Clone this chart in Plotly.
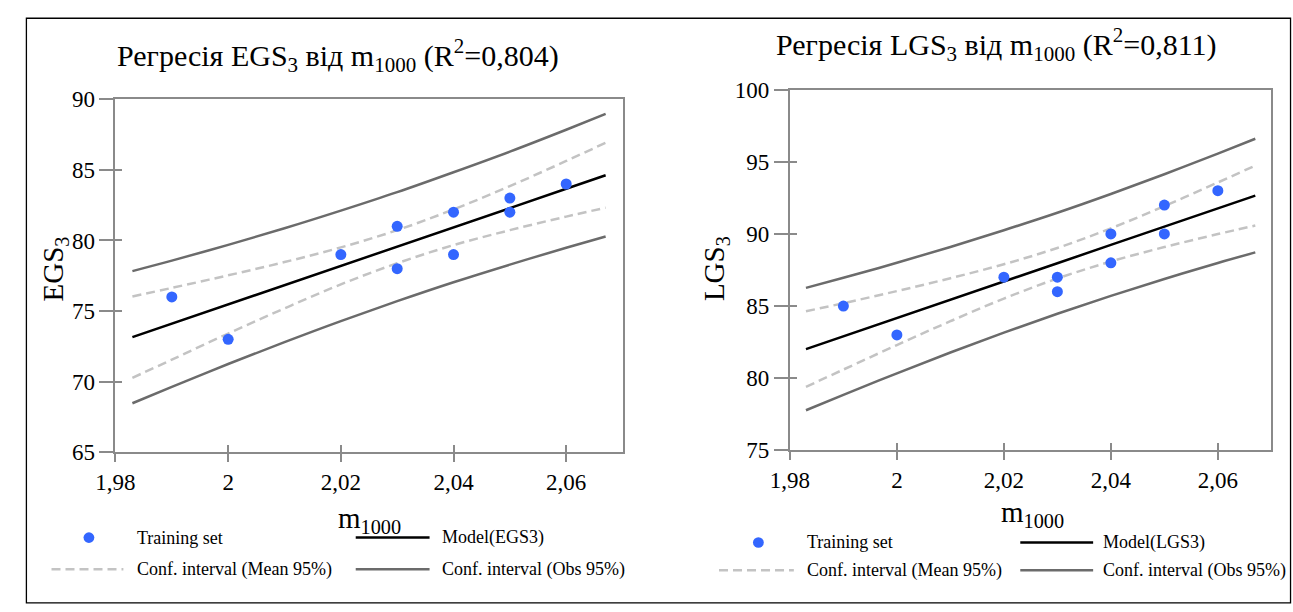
import plotly.graph_objects as go

W, H = 1293, 612

# ---------------- data ----------------
m1000 = [1.99, 2.00, 2.02, 2.03, 2.03, 2.04, 2.04, 2.05, 2.05, 2.06]
egs3 = [76, 73, 79, 81, 78, 82, 79, 83, 82, 84]
lgs3 = [85, 83, 87, 87, 86, 90, 88, 92, 90, 93]

curve_x = [1.983, 1.99, 2.00, 2.01, 2.02, 2.03, 2.04, 2.05, 2.06, 2.067]

egs_model = [73.15, 74.10, 75.47, 76.83, 78.20, 79.56, 80.93, 82.29, 83.66, 84.62]
egs_mean_lo = [70.27, 71.56, 73.41, 75.19, 76.89, 78.39, 79.67, 80.73, 81.69, 82.32]
egs_mean_hi = [76.03, 76.64, 77.53, 78.47, 79.51, 80.73, 82.20, 83.85, 85.63, 86.92]
egs_obs_lo = [68.47, 69.63, 71.25, 72.80, 74.29, 75.70, 77.04, 78.29, 79.48, 80.28]
egs_obs_hi = [77.83, 78.57, 79.69, 80.86, 82.11, 83.42, 84.83, 86.29, 87.84, 88.96]

lgs_model = [82.02, 82.90, 84.17, 85.44, 86.71, 87.97, 89.24, 90.51, 91.78, 92.66]
lgs_mean_lo = [79.40, 80.60, 82.30, 83.95, 85.52, 86.91, 88.09, 89.09, 89.99, 90.58]
lgs_mean_hi = [84.64, 85.20, 86.04, 86.93, 87.90, 89.03, 90.39, 91.93, 93.57, 94.74]
lgs_obs_lo = [77.78, 78.84, 80.34, 81.78, 83.16, 84.47, 85.71, 86.88, 87.99, 88.72]
lgs_obs_hi = [86.26, 86.96, 88.00, 89.10, 90.26, 91.47, 92.77, 94.14, 95.57, 96.60]

x_ticks = [1.98, 2.00, 2.02, 2.04, 2.06]
x_ticktext = ["1,98", "2", "2,02", "2,04", "2,06"]
x_range = [1.98, 2.07]
egs_ticks = [65, 70, 75, 80, 85, 90]
lgs_ticks = [75, 80, 85, 90, 95, 100]

titles = ["Регресія EGS<sub>3</sub> від m<sub>1000</sub> (R<sup>2</sup>=0,804)",
          "Регресія LGS<sub>3</sub> від m<sub>1000</sub> (R<sup>2</sup>=0,811)"]
y_titles = ["EGS<sub>3</sub>", "LGS<sub>3</sub>"]
x_title = "m<sub>1000</sub>"
legend_labels = [["Training set", "Model(EGS3)", "Conf. interval (Mean 95%)", "Conf. interval (Obs 95%)"],
                 ["Training set", "Model(LGS3)", "Conf. interval (Mean 95%)", "Conf. interval (Obs 95%)"]]

# ---------------- styles ----------------
FONT = "Liberation Serif, Times New Roman, serif"
BLUE = "#3366ff"
MEAN_C = "#c3c3c3"
OBS_C = "#6b6b6b"
AXIS_C = "#8a8a8a"
DASH = "9px,5px"


def px(x):
    return x / W


def py(y):
    return 1 - y / H


fig = go.Figure()

panels = [
    dict(y=egs3, model=egs_model, mlo=egs_mean_lo, mhi=egs_mean_hi, olo=egs_obs_lo, ohi=egs_obs_hi,
         xa="x", ya="y"),
    dict(y=lgs3, model=lgs_model, mlo=lgs_mean_lo, mhi=lgs_mean_hi, olo=lgs_obs_lo, ohi=lgs_obs_hi,
         xa="x2", ya="y2"),
]

for p in panels:
    common = dict(xaxis=p["xa"], yaxis=p["ya"], showlegend=False, hoverinfo="skip")
    fig.add_trace(go.Scatter(x=curve_x, y=p["ohi"], mode="lines", line=dict(color=OBS_C, width=2.5, shape="spline"), **common))
    fig.add_trace(go.Scatter(x=curve_x, y=p["olo"], mode="lines", line=dict(color=OBS_C, width=2.5, shape="spline"), **common))
    fig.add_trace(go.Scatter(x=curve_x, y=p["mhi"], mode="lines", line=dict(color=MEAN_C, width=2.5, dash=DASH, shape="spline"), **common))
    fig.add_trace(go.Scatter(x=curve_x, y=p["mlo"], mode="lines", line=dict(color=MEAN_C, width=2.5, dash=DASH, shape="spline"), **common))
    fig.add_trace(go.Scatter(x=curve_x, y=p["model"], mode="lines", line=dict(color="black", width=2.5), **common))
    fig.add_trace(go.Scatter(x=m1000, y=p["y"], mode="markers", marker=dict(color=BLUE, size=11, line=dict(width=0)), **common))

axis_common = dict(showgrid=False, zeroline=False, showline=True, linecolor=AXIS_C, linewidth=2,
                   mirror=True, ticks="outside", tickcolor=AXIS_C, tickwidth=2,
                   tickfont=dict(family=FONT, size=23, color="black"))

L = dict(x0=97, x1=612, y0=91, y1=459)
R = dict(x0=782, x1=1271, y0=81, y1=457)

fig.update_layout(
    xaxis=dict(domain=[px(L["x0"]), px(L["x1"])], range=x_range, tickvals=x_ticks, ticktext=x_ticktext,
               anchor="y", ticklen=8, **axis_common),
    yaxis=dict(domain=[py(L["y1"]), py(L["y0"])], range=[65, 90], tickvals=egs_ticks, anchor="x",
               ticklen=14, **axis_common),
    xaxis2=dict(domain=[px(R["x0"]), px(R["x1"])], range=x_range, tickvals=x_ticks, ticktext=x_ticktext,
                anchor="y2", ticklen=8, **axis_common),
    yaxis2=dict(domain=[py(R["y1"]), py(R["y0"])], range=[75, 100], tickvals=lgs_ticks, anchor="x2",
                ticklen=14, **axis_common),
)

# inner halves of the crossing ticks
inner = dict(showgrid=False, zeroline=False, showline=False, ticks="inside", ticklen=7,
             tickcolor=AXIS_C, tickwidth=2, showticklabels=False)
fig.update_layout(
    xaxis3=dict(overlaying="x", anchor="y", side="bottom", range=x_range, tickvals=x_ticks, **inner),
    yaxis3=dict(overlaying="y", anchor="x", side="left", range=[65, 90], tickvals=egs_ticks, **inner),
    xaxis4=dict(overlaying="x2", anchor="y2", side="bottom", range=x_range, tickvals=x_ticks, **inner),
    yaxis4=dict(overlaying="y2", anchor="x2", side="left", range=[75, 100], tickvals=lgs_ticks, **inner),
)
fig.add_trace(go.Scatter(x=[x_range[0]], y=[65], xaxis="x3", yaxis="y3", mode="markers",
                         marker=dict(opacity=0), showlegend=False, hoverinfo="skip"))
fig.add_trace(go.Scatter(x=[x_range[0]], y=[75], xaxis="x4", yaxis="y4", mode="markers",
                         marker=dict(opacity=0), showlegend=False, hoverinfo="skip"))

annotations = []
shapes = []

# outer frame (bottom edge below the picture)
shapes.append(dict(type="rect", xref="paper", yref="paper", x0=px(6.5), x1=px(1290.5), y0=py(616), y1=py(6.5),
                   line=dict(color="black", width=1.3), layer="below"))

title_pos = [(323, 45), (992, 34)]
ytitle_pos = [(36, 268), (707, 268)]
xtitle_pos = [(355, 530), (1028, 523)]
leg = [dict(mx=70, r1=548, r2=581, a0=32, a1=105, at=117, b0=341, b1=416, bt=427),
       dict(mx=750, r1=553, r2=582, a0=710, a1=786, at=797, b0=1016, b1=1090, bt=1098)]

for i in range(2):
    tx, ty = title_pos[i]
    annotations.append(dict(text=titles[i], x=px(tx), y=py(ty), xref="paper", yref="paper", showarrow=False,
                            xanchor="center", yanchor="middle", font=dict(family=FONT, size=30, color="black")))
    yx, yy = ytitle_pos[i]
    annotations.append(dict(text=y_titles[i], x=px(yx), y=py(yy), xref="paper", yref="paper", showarrow=False,
                            xanchor="center", yanchor="middle", textangle=-90,
                            font=dict(family=FONT, size=29, color="black")))
    xx, xy = xtitle_pos[i]
    annotations.append(dict(text=x_title, x=px(xx), y=py(xy), xref="paper", yref="paper", showarrow=False,
                            xanchor="center", yanchor="middle", font=dict(family=FONT, size=29, color="black")))
    lg = leg[i]
    labels = legend_labels[i]
    r = 5.5
    shapes.append(dict(type="circle", xref="paper", yref="paper", x0=px(lg["mx"] - r), x1=px(lg["mx"] + r),
                       y0=py(lg["r1"] + r), y1=py(lg["r1"] - r), fillcolor=BLUE, line=dict(width=0)))
    shapes.append(dict(type="line", xref="paper", yref="paper", x0=px(lg["b0"]), x1=px(lg["b1"]),
                       y0=py(lg["r1"]), y1=py(lg["r1"]), line=dict(color="black", width=2.5)))
    shapes.append(dict(type="line", xref="paper", yref="paper", x0=px(lg["a0"]), x1=px(lg["a1"]),
                       y0=py(lg["r2"]), y1=py(lg["r2"]), line=dict(color=MEAN_C, width=2.5, dash=DASH)))
    shapes.append(dict(type="line", xref="paper", yref="paper", x0=px(lg["b0"]), x1=px(lg["b1"]),
                       y0=py(lg["r2"]), y1=py(lg["r2"]), line=dict(color=OBS_C, width=2.5)))
    for text, tx_, ty_ in [(labels[0], lg["at"], lg["r1"]), (labels[1], lg["bt"], lg["r1"]),
                           (labels[2], lg["at"], lg["r2"]), (labels[3], lg["bt"], lg["r2"])]:
        annotations.append(dict(text=text, x=px(tx_), y=py(ty_), xref="paper", yref="paper", showarrow=False,
                                xanchor="left", yanchor="middle", font=dict(family=FONT, size=18, color="black")))

fig.update_layout(
    width=W, height=H,
    margin=dict(l=0, r=0, t=0, b=0, pad=0),
    paper_bgcolor="white", plot_bgcolor="white",
    separators=", ",
    annotations=annotations, shapes=shapes,
    showlegend=False,
    font=dict(family=FONT, color="black"),
)

post = ("var h=document.documentElement,b=document.body;"
        "h.style.margin='0';h.style.padding='0';h.style.overflow='hidden';"
        "b.style.margin='0';b.style.padding='0';b.style.overflow='hidden';")
fig.write_html("out.html", post_script=post, config={"displayModeBar": False})
